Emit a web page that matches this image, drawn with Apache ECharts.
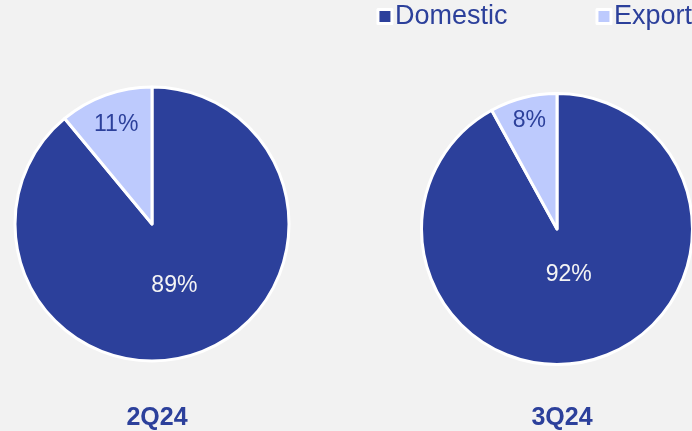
<!DOCTYPE html>
<html>
<head>
<meta charset="utf-8">
<script src="https://cdn.jsdelivr.net/npm/echarts@6/dist/echarts.min.js"></script>
<style>
html,body{margin:0;padding:0;background:#f2f2f2;}
#c{width:692px;height:431px;}
</style>
</head>
<body>
<div id="c"></div>
<script>
const categories = ['Domestic', 'Export'];
const periods = ['2Q24', '3Q24'];
const values2Q24 = [89, 11];
const values3Q24 = [92, 8];
const seriesValues = [values2Q24, values3Q24];

const colors = ['#2c409b', '#bdcafd'];
const centers = [[152, 224], [557, 229]];
const radii = [137, 135.5];
// label placement radius (relative to pie radius) per period: [domestic, export]
const labelRatio = [[0.92, 1.5], [0.65, 1.6]];
const labelColors = ['#f4f4f4', '#2c409b'];
const textBlue = '#2c409b';
const font = 'Liberation Sans, Arial, sans-serif';

const chart = echarts.init(document.getElementById('c'));
const series = [];
seriesValues.forEach((vals, p) => {
  series.push({
    type: 'pie',
    center: centers[p],
    radius: [0, radii[p]],
    startAngle: 90,
    clockwise: true,
    silent: true,
    itemStyle: { borderColor: '#ffffff', borderWidth: 3 },
    label: { show: false },
    labelLine: { show: false },
    data: vals.map((v, i) => ({ name: categories[i], value: v, itemStyle: { color: colors[i] } }))
  });
  categories.forEach((cat, k) => {
    series.push({
      type: 'pie',
      center: centers[p],
      radius: [0, radii[p] * labelRatio[p][k]],
      startAngle: 90,
      clockwise: true,
      silent: true,
      z: 5,
      itemStyle: { color: 'rgba(0,0,0,0)', borderWidth: 0 },
      labelLine: { show: false },
      data: vals.map((v, i) => ({
        name: categories[i] + '_lbl' + k, value: v,
        label: {
          show: i === k, position: 'inside',
          formatter: '{c}%', fontSize: 23, fontFamily: font,
          color: labelColors[i]
        }
      }))
    });
  });
});

chart.setOption({
  backgroundColor: '#f2f2f2',
  animation: false,
  legend: {
    data: categories,
    right: 0,
    top: 3,
    padding: 0,
    icon: 'rect',
    itemWidth: 14,
    itemHeight: 14,
    itemGap: 88,
    textStyle: { fontSize: 27, color: textBlue, fontFamily: font, padding: [0, 0, 0, -2] },
    itemStyle: { borderColor: '#ffffff', borderWidth: 3 }
  },
  title: periods.map((t, p) => ({
    text: t,
    left: centers[p][0],
    top: 401,
    textAlign: 'center',
    textStyle: { fontSize: 25, fontWeight: 'bold', color: textBlue, fontFamily: font }
  })),
  series: series
});
</script>
</body>
</html>
